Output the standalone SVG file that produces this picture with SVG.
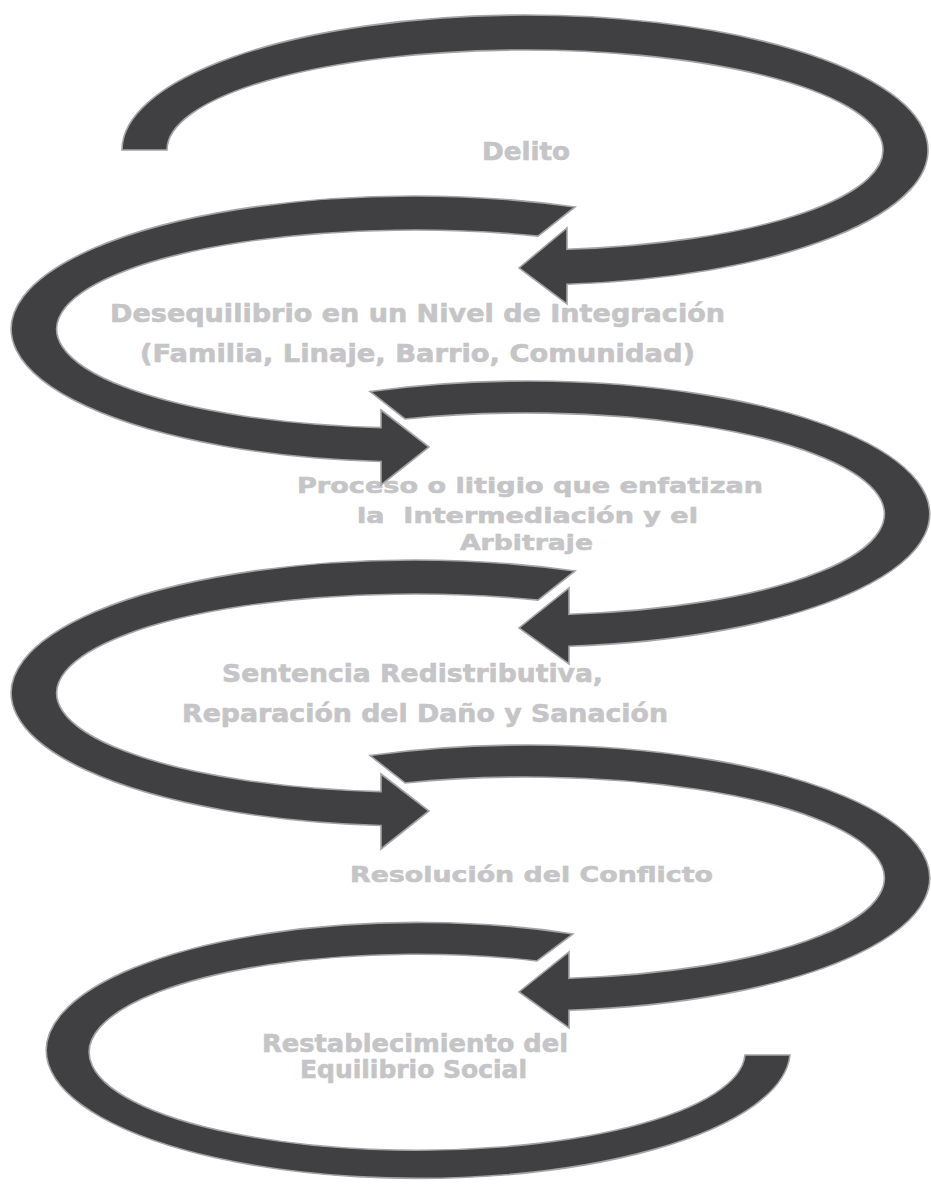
<svg xmlns="http://www.w3.org/2000/svg" width="931" height="1187" viewBox="0 0 931 1187">
<style>
.band{fill:#404042;stroke:#a4a4a6;stroke-width:1.6;stroke-linejoin:miter}
.lbl{font-family:"DejaVu Sans","Liberation Sans",sans-serif;font-weight:bold;font-size:24px;fill:#c5c5c7;stroke:#c5c5c7;stroke-width:0.6}
.sm{font-size:22px}
</style>
<rect width="931" height="1187" fill="#ffffff"/>
<g id="node-delito"><text class="lbl" x="482" y="160" textLength="88" lengthAdjust="spacingAndGlyphs">Delito</text></g>
<g id="node-desequilibrio">
<text class="lbl" x="110" y="322" textLength="615" lengthAdjust="spacingAndGlyphs">Desequilibrio en un Nivel de Integración</text>
<text class="lbl" x="140" y="362" textLength="555" lengthAdjust="spacingAndGlyphs">(Familia, Linaje, Barrio, Comunidad)</text>
</g>
<g id="node-proceso">
<text class="lbl sm" x="297" y="493" textLength="466" lengthAdjust="spacingAndGlyphs">Proceso o litigio que enfatizan</text>
<text class="lbl sm" x="357" y="523" textLength="341" lengthAdjust="spacingAndGlyphs" xml:space="preserve">la  Intermediación y el</text>
<text class="lbl sm" x="460" y="550" textLength="133" lengthAdjust="spacingAndGlyphs">Arbitraje</text>
</g>
<g id="node-sentencia">
<text class="lbl" x="222" y="682" textLength="381" lengthAdjust="spacingAndGlyphs">Sentencia Redistributiva,</text>
<text class="lbl" x="182" y="722" textLength="486" lengthAdjust="spacingAndGlyphs">Reparación del Daño y Sanación</text>
</g>
<g id="node-resolucion"><text class="lbl sm" x="350" y="882" textLength="363" lengthAdjust="spacingAndGlyphs">Resolución del Conflicto</text></g>
<g id="node-restablecimiento">
<text class="lbl" x="262" y="1052" textLength="306" lengthAdjust="spacingAndGlyphs">Restablecimiento del</text>
<text class="lbl" x="300" y="1078" textLength="227" lengthAdjust="spacingAndGlyphs">Equilibrio Social</text>
</g>
<g id="connectors">
<path class="band" d="M 122 150 A 403 135 0 1 1 567 284.3 L 567 304 L 519 268 L 567 228 L 567 249.3 A 358 100 0 1 0 167 150 Z"/>
<path class="band" d="M 575 207 A 403 133 0 1 0 381 461.5 L 381 485 L 429 447 L 381 410 L 381 427.6 A 358 99 0 1 1 538 236.1 Z"/>
<path class="band" d="M 370 391.5 A 403 133 0 1 1 569 646.3 L 569 664 L 519 628 L 569 588 L 569 614.3 A 358 101 0 1 0 405 419 Z"/>
<path class="band" d="M 575 571 A 403 133 0 1 0 381 825.5 L 381 849 L 429 811 L 381 774 L 381 791.6 A 358 99 0 1 1 538 600.1 Z"/>
<path class="band" d="M 370 755.5 A 403 133 0 1 1 569 1010.3 L 569 1028 L 519 992 L 569 952 L 569 978.3 A 358 101 0 1 0 405 783 Z"/>
<path class="band" d="M 573 934 A 372 128 0 1 0 790 1055 L 745 1055 A 328 98 0 1 1 537 961 Z"/>
</g>
</svg>
